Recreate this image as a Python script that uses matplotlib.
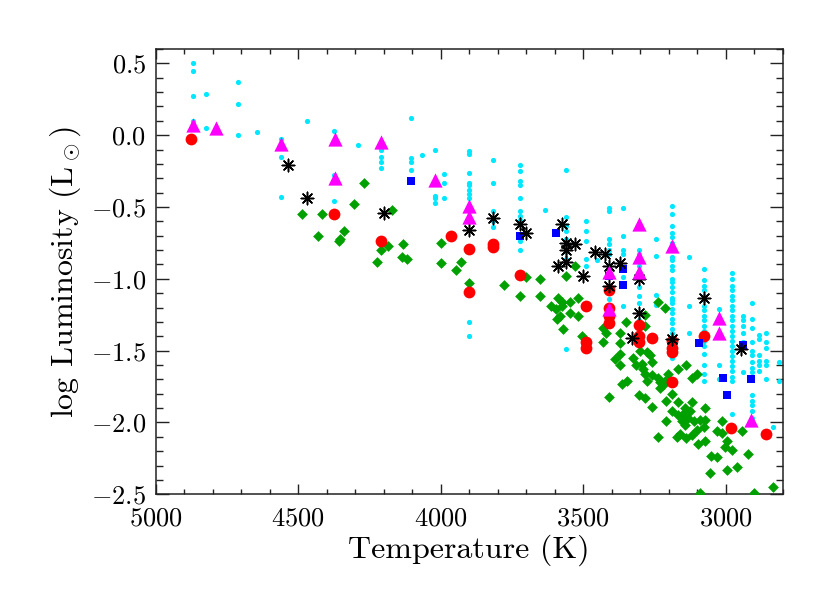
import matplotlib
matplotlib.use("Agg")
import matplotlib.pyplot as plt
from matplotlib.ticker import MultipleLocator, FuncFormatter

plt.rcParams['font.family'] = ['cmr10', 'DejaVu Serif']
plt.rcParams['mathtext.fontset'] = 'cm'
plt.rcParams['axes.formatter.use_mathtext'] = True

# small cyan dots (T, log L)
cyan_teff = [4870, 4870, 4870, 4870, 4825, 4825, 4710, 4710, 4710, 4645,
             4560, 4560, 4560, 4470, 4375, 4375, 4375, 4290,
             4210, 4210, 4210, 4210, 4105, 4105, 4105, 4105, 4065,
             4020, 4020, 4020, 4020, 3990, 3990, 3990,
             3900, 3900, 3900, 3900, 3900, 3900, 3900, 3900, 3900, 3900,
             3815, 3815, 3815, 3815, 3815, 3815,
             3720, 3720, 3720, 3720, 3720, 3720, 3720, 3720, 3720, 3720, 3635,
             3560, 3560, 3560, 3560, 3560, 3560, 3560, 3560, 3560,
             3490, 3490, 3490, 3490, 3490, 3450,
             3410, 3410, 3410, 3410, 3410, 3410, 3410, 3410,
             3360, 3360, 3360, 3360, 3360, 3360,
             3305, 3305, 3305, 3305, 3305, 3305, 3305, 3305, 3305,
             3245, 3245, 3245, 3245,
             3190, 3190, 3190, 3190, 3190, 3190, 3190, 3190, 3190, 3190, 3190, 3190, 3190,
             3190, 3190, 3190, 3190, 3190, 3190, 3190, 3190, 3190, 3190, 3190, 3190, 3190,
             3130, 3130, 3130,
             3075, 3075, 3075, 3075, 3075, 3075, 3075, 3075, 3075, 3075,
             3075, 3075, 3075, 3075, 3075, 3075, 3075, 3075, 3075,
             3022, 3022, 3022,
             2978, 2978, 2978, 2978, 2978, 2978, 2978, 2978, 2978, 2978, 2978, 2978,
             2978, 2978, 2978, 2978, 2978, 2978, 2978, 2978, 2978, 2978, 2978,
             2940, 2940, 2940, 2940, 2940, 2940,
             2909, 2909, 2909, 2909, 2909, 2909, 2909, 2909, 2909, 2909, 2909, 2909, 2909, 2909, 2909,
             2884, 2884, 2884, 2884, 2884, 2884,
             2857, 2857, 2857, 2857, 2857, 2857, 2835, 2812, 2812]
cyan_logl = [0.50, 0.45, 0.27, 0.10, 0.29, 0.05, 0.37, 0.22, 0.00, 0.02,
             -0.03, -0.15, -0.43, 0.10, 0.03, -0.28, -0.46, -0.07,
             -0.10, -0.15, -0.19, -0.23, 0.12, -0.16, -0.19, -0.24, -0.14,
             -0.10, -0.42, -0.44, -0.47, -0.27, -0.33, -0.44,
             -0.11, -0.13, -0.26, -0.33, -0.35, -0.38, -0.41, -0.44, -1.30, -1.40,
             -0.17, -0.33, -0.53, -0.58, -0.60, -0.64,
             -0.21, -0.25, -0.32, -0.35, -0.44, -0.53, -0.56, -0.59, -0.74, -0.80, -0.52,
             -0.24, -0.57, -0.63, -0.67, -0.72, -0.77, -0.81, -0.86, -1.49,
             -0.60, -0.67, -0.74, -0.86, -0.91, -0.87,
             -0.51, -0.53, -0.72, -0.76, -0.80, -0.83, -1.10, -1.14,
             -0.51, -0.70, -0.80, -0.83, -0.99, -1.19,
             -0.80, -0.83, -0.91, -0.98, -1.06, -1.12, -1.17, -1.29, -1.33,
             -0.72, -0.84, -1.11, -1.18,
             -0.49, -0.55, -0.63, -0.68, -0.71, -0.75, -0.85, -0.87, -0.91, -0.94, -1.00, -1.02, -1.06,
             -1.09, -1.13, -1.15, -1.17, -1.21, -1.24, -1.28, -1.31, -1.35, -1.38, -1.45, -1.50, -1.55,
             -0.85, -1.19, -1.38,
             -0.93, -1.01, -1.05, -1.08, -1.12, -1.15, -1.19, -1.22, -1.26, -1.29,
             -1.33, -1.36, -1.40, -1.43, -1.47, -1.52, -1.60, -1.66, -1.71,
             -1.21, -1.60, -1.70,
             -0.96, -1.00, -1.05, -1.08, -1.12, -1.15, -1.19, -1.22, -1.26, -1.29, -1.33, -1.36,
             -1.40, -1.43, -1.47, -1.50, -1.54, -1.57, -1.61, -1.64, -1.68, -1.71, -1.94,
             -1.26, -1.29, -1.33, -1.38, -1.44, -1.65,
             -1.17, -1.28, -1.34, -1.44, -1.50, -1.53, -1.58, -1.62, -1.65, -1.69, -1.81, -1.85, -1.88, -1.92, -1.97,
             -1.39, -1.42, -1.53, -1.57, -1.60, -1.64,
             -1.38, -1.44, -1.48, -1.57, -1.60, -1.70, -2.03, -1.58, -1.71]

# green diamonds
green_teff = [4485, 4415, 4430, 4355, 4358, 4338, 4303, 4270, 4172, 4210, 4184, 4225,
              4131, 4135, 4120, 4000, 4000, 3930, 3945, 3900, 3777, 3700, 3720, 3652,
              3652, 3560, 3530, 3590, 3613, 3595, 3576, 3581, 3591, 3546, 3546, 3517,
              3517, 3572, 3576, 3505, 3430, 3420, 3430, 3371, 3350, 3371, 3408, 3371,
              3388, 3371, 3348, 3365, 3326, 3315, 3301, 3289, 3266, 3275, 3304, 3283,
              3259, 3259, 3237, 3212, 3237, 3214, 3230, 3201, 3190, 3210, 3237, 3166,
              3140, 3119, 3102, 3283, 3283, 3295, 3283, 3259, 3275, 3230, 3219, 3210,
              3190, 3166, 3143, 3166, 3149, 3131, 3119, 3125, 3143, 3155, 3112, 3102,
              3091, 3073, 3073, 3077, 3172, 3161, 3138, 3119, 3096, 3073, 3032, 3050,
              3032, 3054, 3090, 3012, 2997, 3001, 2978, 2944, 2961, 2920, 2997, 2900,
              2835, 3014]
green_logl = [-0.55, -0.55, -0.70, -0.72, -0.74, -0.67, -0.48, -0.33, -0.52, -0.80, -0.77, -0.88,
              -0.76, -0.85, -0.86, -0.75, -0.89, -0.88, -0.94, -1.03, -1.04, -0.99, -1.12, -1.00,
              -1.12, -0.98, -0.91, -1.13, -1.19, -1.21, -1.19, -1.26, -1.28, -1.16, -1.24, -1.13,
              -1.26, -1.35, -1.16, -1.40, -1.34, -1.38, -1.44, -1.38, -1.30, -1.45, -1.82, -1.52,
              -1.56, -1.60, -1.71, -1.73, -1.55, -1.60, -1.50, -1.63, -1.53, -1.51, -1.81, -1.83,
              -1.89, -1.58, -1.16, -1.20, -1.69, -1.71, -1.76, -1.66, -1.80, -1.85, -2.10, -1.63,
              -1.60, -1.69, -1.66, -1.25, -1.33, -1.59, -1.66, -1.67, -1.71, -1.72, -1.74, -1.99,
              -1.92, -1.86, -1.90, -1.95, -1.94, -1.97, -1.86, -1.92, -2.02, -1.99, -1.99, -2.05,
              -1.98, -1.90, -1.98, -2.03, -2.10, -2.08, -2.11, -2.09, -2.15, -2.13, -2.06, -2.23,
              -2.24, -2.35, -2.49, -1.99, -2.13, -2.17, -2.19, -2.06, -2.31, -2.22, -2.33, -2.49,
              -2.45, -2.07]

# red circles
red_teff = [4875, 4375, 4210, 3965, 3900, 3900, 3815, 3815, 3720, 3490, 3490, 3490,
            3410, 3410, 3410, 3410, 3305, 3305, 3305, 3260, 3190, 3190, 3190, 3190,
            3075, 2980, 2860]
red_logl = [-0.03, -0.55, -0.74, -0.70, -0.79, -1.09, -0.76, -0.78, -0.97, -1.19, -1.44, -1.48,
            -1.08, -1.20, -1.26, -1.31, -1.32, -1.40, -1.44, -1.41, -1.43, -1.48, -1.51, -1.72,
            -1.40, -2.04, -2.08]

# blue squares
blue_teff = [4105, 3720, 3595, 3410, 3360, 3360, 3095, 3010, 2995, 2940, 2910]
blue_logl = [-0.32, -0.70, -0.68, -0.98, -0.93, -1.04, -1.45, -1.69, -1.81, -1.46, -1.70]

# black asterisks
star_teff = [4535, 4470, 4200, 3900, 3815, 3720, 3700, 3575, 3560, 3530, 3560, 3560,
             3590, 3500, 3460, 3425, 3410, 3370, 3410, 3305, 3305, 3330, 3190, 3075, 2945]
star_logl = [-0.21, -0.44, -0.54, -0.66, -0.58, -0.62, -0.68, -0.62, -0.75, -0.76, -0.80, -0.88,
             -0.91, -0.98, -0.81, -0.83, -0.91, -0.89, -1.05, -1.00, -1.24, -1.41, -1.42, -1.13, -1.49]

# magenta triangles
tri_teff = [4870, 4790, 4560, 4370, 4370, 4210, 4020, 3900, 3900, 3410, 3410, 3305,
            3305, 3305, 3190, 3025, 3025, 2910]
tri_logl = [0.07, 0.05, -0.06, -0.03, -0.30, -0.05, -0.31, -0.49, -0.57, -0.95, -1.21, -0.62,
            -0.85, -0.95, -0.77, -1.27, -1.38, -1.98]

fig = plt.figure(figsize=(8.3, 5.93), dpi=100)
ax = fig.add_axes([0.1876, 0.1664, 0.7554, 0.751])

ax.scatter(cyan_teff, cyan_logl, s=14, color='#00e8ff', linewidths=0, zorder=2)
ax.scatter(green_teff, green_logl, s=30, marker='D', color='#00a000', linewidths=0, zorder=3)
ax.scatter(red_teff, red_logl, s=72, color='#ff0000', linewidths=0, zorder=4)
ax.scatter(blue_teff, blue_logl, s=32, marker='s', color='#0000ff', linewidths=0, zorder=5)
ax.scatter(star_teff, star_logl, s=80, marker=(8, 2, 0), color='black', linewidths=1.1, zorder=6)
ax.scatter(tri_teff, tri_logl, s=105, marker='^', color='#ff00ff', linewidths=0, zorder=7)

ax.set_xlim(5000, 2800)
ax.set_ylim(-2.5, 0.6)
ax.xaxis.set_major_locator(MultipleLocator(500))
ax.xaxis.set_minor_locator(MultipleLocator(100))
ax.yaxis.set_major_locator(MultipleLocator(0.5))
ax.yaxis.set_minor_locator(MultipleLocator(0.1))
ax.xaxis.set_major_formatter(FuncFormatter(lambda v, p: '$%d$' % round(v)))
ax.yaxis.set_major_formatter(FuncFormatter(lambda v, p: '$%.1f$' % v))

ax.tick_params(axis='both', which='both', direction='in', top=True, right=True,
               labelsize=19, width=1.0, color='#222222')
ax.tick_params(axis='x', which='major', length=7, pad=9)
ax.tick_params(axis='x', which='minor', length=3.6)
ax.tick_params(axis='y', which='major', length=9.5, pad=7)
ax.tick_params(axis='y', which='minor', length=5)
for sp in ax.spines.values():
    sp.set_linewidth(1.1)
    sp.set_color('#222222')

ax.set_xlabel('Temperature (K)', fontsize=23, labelpad=3)
ax.set_ylabel(r'log Luminosity (L$_\odot$)', fontsize=23, labelpad=6)

fig.savefig('out.png', dpi=100)
